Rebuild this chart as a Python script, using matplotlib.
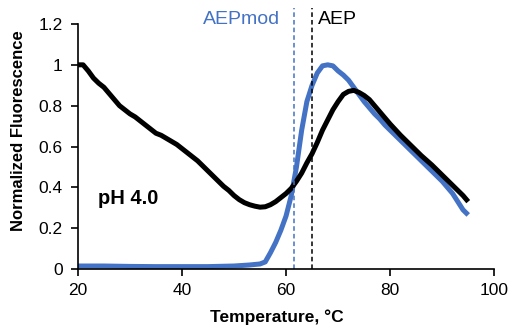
import numpy as np
import matplotlib.pyplot as plt
from matplotlib.ticker import FuncFormatter

plt.rcParams['font.family'] = ['Liberation Sans', 'DejaVu Sans']

# AEP (black) melt curve
temp_aep = [20, 21, 22, 23, 24, 25, 26, 27, 28, 29, 30, 31, 32, 33, 34, 35,
            36, 37, 38, 39, 40, 41, 42, 43, 44, 45, 46, 47, 48, 49, 50, 51,
            52, 53, 54, 55, 56, 57, 58, 59, 60, 61, 62, 63, 64, 65, 66, 67,
            68, 69, 70, 71, 72, 73, 74, 75, 76, 77, 78, 79, 80, 82, 84, 86,
            88, 90, 92, 94, 95]
fluor_aep = [1.0, 1.0, 0.97, 0.935, 0.91, 0.89, 0.86, 0.83, 0.80, 0.78, 0.76,
             0.745, 0.725, 0.705, 0.685, 0.665, 0.655, 0.64, 0.625, 0.61, 0.59,
             0.57, 0.55, 0.53, 0.505, 0.48, 0.455, 0.43, 0.405, 0.385, 0.36,
             0.34, 0.325, 0.315, 0.308, 0.303, 0.305, 0.315, 0.33, 0.35, 0.37,
             0.395, 0.43, 0.47, 0.52, 0.565, 0.62, 0.68, 0.73, 0.78, 0.82,
             0.855, 0.87, 0.875, 0.865, 0.85, 0.83, 0.80, 0.77, 0.74, 0.71,
             0.655, 0.605, 0.555, 0.51, 0.46, 0.41, 0.36, 0.33]

# AEPmod (blue) melt curve
temp_mod = [20, 25, 30, 35, 40, 45, 50, 53, 55, 56, 57, 58, 59, 60, 61, 62,
            63, 64, 65, 66, 67, 68, 69, 70, 71, 72, 73, 74, 75, 76, 77, 78,
            79, 80, 82, 84, 86, 88, 90, 92, 93, 94, 95]
fluor_mod = [0.015, 0.015, 0.013, 0.012, 0.012, 0.012, 0.015, 0.02, 0.025,
             0.035, 0.08, 0.13, 0.19, 0.26, 0.36, 0.5, 0.68, 0.82, 0.9, 0.96,
             0.995, 1.0, 0.995, 0.97, 0.95, 0.925, 0.89, 0.855, 0.82, 0.79,
             0.76, 0.735, 0.705, 0.68, 0.63, 0.58, 0.53, 0.48, 0.43, 0.37,
             0.33, 0.29, 0.265]

# melting temperatures
tm_mod = 61.5
tm_aep = 65.0

BLUE = '#4472C4'

fig = plt.figure(figsize=(5.09, 3.33), dpi=100)
ax = fig.add_axes([0.153, 0.192, 0.818, 0.736])

ax.plot(temp_mod, fluor_mod, color=BLUE, lw=3.6, solid_capstyle='butt')
ax.plot(temp_aep, fluor_aep, color='black', lw=3.6, solid_capstyle='butt')

# Tm markers run a little above the plot area
ax.vlines(tm_mod, 0, 1.28, color=BLUE, lw=1.1, linestyles=(0, (3, 2)),
          clip_on=False)
ax.vlines(tm_aep, 0, 1.28, color='black', lw=1.1, linestyles=(0, (3, 2)),
          clip_on=False)

ax.text(tm_mod - 2.7, 1.223, 'AEPmod', color=BLUE, fontsize=14,
        ha='right', va='center', clip_on=False)
ax.text(tm_aep + 1.1, 1.223, 'AEP', color='black', fontsize=14,
        ha='left', va='center', clip_on=False)
ax.text(23.8, 0.318, 'pH 4.0', fontsize=14.5, fontweight='bold',
        ha='left', va='baseline')

ax.set_xlim(20, 100)
ax.set_ylim(0, 1.2)
ax.set_xticks([20, 40, 60, 80, 100])
ax.set_yticks([0, 0.2, 0.4, 0.6, 0.8, 1.0, 1.2])
ax.yaxis.set_major_formatter(FuncFormatter(lambda v, p: f'{v:g}'))

ax.spines['top'].set_visible(False)
ax.spines['right'].set_visible(False)
for s in ('left', 'bottom'):
    ax.spines[s].set_linewidth(1.2)
ax.tick_params(direction='out', length=5, width=1.2, labelsize=12.5)
ax.tick_params(axis='y', pad=6)
ax.tick_params(axis='x', pad=5)

ax.set_xlabel('Temperature, °C', fontsize=12.5, fontweight='bold')
ax.set_ylabel('Normalized Fluorescence', fontsize=12, fontweight='bold')
ax.xaxis.set_label_coords(0.477, -0.163)
ax.yaxis.set_label_coords(-0.125, 0.563)

fig.savefig('out.png', dpi=100)
